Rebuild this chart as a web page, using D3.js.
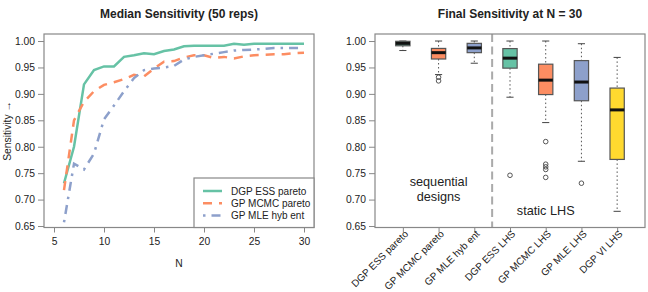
<!DOCTYPE html>
<html>
<head>
<meta charset="utf-8">
<script src="https://cdn.jsdelivr.net/npm/d3@7"></script>
<style>
  body { margin: 0; background: #fff; }
  text { font-family: "Liberation Sans", Arial, Helvetica, sans-serif; fill: #222; }
</style>
</head>
<body>
<script>
// left panel: median sensitivity vs N, three sequential designs
var nValues = [6, 7, 8, 9, 10, 11, 12, 13, 14, 15, 16, 17, 18, 19, 20, 21, 22, 23, 24, 25, 26, 27, 28, 29, 30];
var dgpEssPareto = [0.731, 0.800, 0.918, 0.945, 0.952, 0.952, 0.970, 0.973, 0.977, 0.975, 0.981, 0.984, 0.990, 0.991, 0.991, 0.991, 0.991, 0.995, 0.993, 0.995, 0.995, 0.995, 0.995, 0.995, 0.995];
var gpMcmcPareto = [0.718, 0.850, 0.885, 0.905, 0.917, 0.922, 0.928, 0.936, 0.933, 0.948, 0.961, 0.962, 0.969, 0.973, 0.973, 0.968, 0.970, 0.967, 0.971, 0.973, 0.974, 0.975, 0.975, 0.977, 0.978];
var gpMleHybEnt = [0.657, 0.768, 0.757, 0.787, 0.852, 0.878, 0.905, 0.930, 0.945, 0.948, 0.950, 0.953, 0.965, 0.970, 0.973, 0.976, 0.979, 0.982, 0.983, 0.984, 0.985, 0.987, 0.987, 0.987, 0.987];
var seriesNames = ["DGP ESS pareto", "GP MCMC pareto", "GP MLE hyb ent"];

var xTicks = [5, 10, 15, 20, 25, 30];
var yTicks = [0.65, 0.70, 0.75, 0.80, 0.85, 0.90, 0.95, 1.00];

// right panel: boxplots of final sensitivity at N = 30
var boxLabels = ["DGP ESS pareto", "GP MCMC pareto", "GP MLE hyb ent", "DGP ESS LHS", "GP MCMC LHS", "GP MLE LHS", "DGP VI LHS"];
var boxLow = [0.982, 0.9365, 0.958, 0.8937, 0.8457, 0.7725, 0.6778];
var boxQ1 = [0.991, 0.966, 0.978, 0.9487, 0.8987, 0.887, 0.776];
var boxMedian = [0.9956, 0.978, 0.987, 0.9676, 0.926, 0.9224, 0.8697];
var boxQ3 = [0.9995, 0.986, 0.9956, 0.9857, 0.9562, 0.963, 0.911];
var boxHigh = [1.0, 1.0, 1.0, 1.0, 1.0, 0.9949, 0.969];
var boxOutliers = [[], [0.9315, 0.9246], [], [0.746], [0.8097, 0.767, 0.762, 0.757, 0.742], [0.731], []];

var colors = ["#66C2A5", "#FC8D62", "#8DA0CB", "#66C2A5", "#FC8D62", "#8DA0CB", "#FFD92F"];
var axisCol = "#888";

var svg = d3.select("body").append("svg")
  .attr("width", 648)
  .attr("height", 292);

var y = d3.scaleLinear().domain([0.6472, 1.0133]).range([227.5, 34]);

// ---------- left panel ----------
var x = d3.scaleLinear().domain([4, 31]).range([44, 314]);
var left = svg.append("g");

left.append("text").attr("x", 179).attr("y", 18).attr("text-anchor", "middle")
  .style("font-size", "12px").style("font-weight", "bold")
  .text("Median Sensitivity (50 reps)");

var gx = left.append("g").attr("transform", "translate(0,227.5)")
  .call(d3.axisBottom(x).tickValues(xTicks).tickSize(5).tickPadding(5));
var gy = left.append("g").attr("transform", "translate(44,0)")
  .call(d3.axisLeft(y).tickValues(yTicks).tickFormat(d3.format(".2f")).tickSize(6).tickPadding(3));
[gx, gy].forEach(function (g) {
  g.select(".domain").remove();
  g.selectAll("line").attr("stroke", axisCol);
  g.selectAll("text").style("font-size", "10.3px").attr("fill", "#222");
});

left.append("rect").attr("x", 44).attr("y", 34).attr("width", 270).attr("height", 193.5)
  .attr("fill", "none").attr("stroke", axisCol).attr("stroke-width", 1.2);

left.append("text").attr("x", 179).attr("y", 267).attr("text-anchor", "middle")
  .style("font-size", "10.3px").text("N");
left.append("text").attr("transform", "translate(11,131) rotate(-90)").attr("text-anchor", "middle")
  .style("font-size", "10.3px").text("Sensitivity \u2192");

var lineData = [dgpEssPareto, gpMcmcPareto, gpMleHybEnt];
var dashes = [null, "9,7", "2.5,6,9,6"];
var line = d3.line().x(function (d, i) { return x(nValues[i]); }).y(function (d) { return y(d); });

lineData.forEach(function (s, k) {
  left.append("path").datum(s)
    .attr("d", line)
    .attr("fill", "none")
    .attr("stroke", colors[k])
    .attr("stroke-width", 2.5)
    .attr("stroke-dasharray", dashes[k]);
});

// legend
var lg = left.append("g");
lg.append("rect").attr("x", 194).attr("y", 178).attr("width", 120).attr("height", 49.5)
  .attr("fill", "#fff").attr("stroke", axisCol).attr("stroke-width", 1.2);
seriesNames.forEach(function (nm, k) {
  var yy = 191 + k * 12.2;
  lg.append("line").attr("x1", 203).attr("x2", 222).attr("y1", yy).attr("y2", yy)
    .attr("stroke", colors[k]).attr("stroke-width", 2.5).attr("stroke-dasharray", dashes[k]);
  lg.append("text").attr("x", 231).attr("y", yy + 3.6).style("font-size", "10px").text(nm);
});

// ---------- right panel ----------
var bx = d3.scaleLinear().domain([0.22, 7.78]).range([375, 645]);
var right = svg.append("g");
var bw = bx(1.4) - bx(1);

right.append("text").attr("x", 510).attr("y", 18).attr("text-anchor", "middle")
  .style("font-size", "12px").style("font-weight", "bold")
  .text("Final Sensitivity at N = 30");

var ry = right.append("g").attr("transform", "translate(375,0)")
  .call(d3.axisLeft(y).tickValues(yTicks).tickFormat(d3.format(".2f")).tickSize(6).tickPadding(3));
var rx = right.append("g").attr("transform", "translate(0,227.5)")
  .call(d3.axisBottom(bx).tickValues(d3.range(1, 8)).tickSize(5).tickFormat(""));
[rx, ry].forEach(function (g) {
  g.select(".domain").remove();
  g.selectAll("line").attr("stroke", axisCol);
  g.selectAll("text").style("font-size", "10.3px").attr("fill", "#222");
});

right.append("line").attr("x1", bx(3.5)).attr("x2", bx(3.5)).attr("y1", 34).attr("y2", 227.5)
  .attr("stroke", "#aaa").attr("stroke-width", 2).attr("stroke-dasharray", "8,4.5");

boxLabels.forEach(function (lab, i) {
  var cx = bx(i + 1);
  var g = right.append("g");
  // whiskers
  g.append("line").attr("x1", cx).attr("x2", cx).attr("y1", y(boxHigh[i])).attr("y2", y(boxQ3[i]))
    .attr("stroke", "#555").attr("stroke-dasharray", "1.5,2.5");
  g.append("line").attr("x1", cx).attr("x2", cx).attr("y1", y(boxQ1[i])).attr("y2", y(boxLow[i]))
    .attr("stroke", "#555").attr("stroke-dasharray", "1.5,2.5");
  [boxHigh[i], boxLow[i]].forEach(function (v) {
    g.append("line").attr("x1", cx - bw / 4).attr("x2", cx + bw / 4).attr("y1", y(v)).attr("y2", y(v))
      .attr("stroke", "#444");
  });
  g.append("rect").attr("x", cx - bw / 2).attr("y", y(boxQ3[i])).attr("width", bw)
    .attr("height", y(boxQ1[i]) - y(boxQ3[i]))
    .attr("fill", colors[i]).attr("stroke", "#555").attr("stroke-width", 1.2);
  g.append("line").attr("x1", cx - bw / 2).attr("x2", cx + bw / 2)
    .attr("y1", y(boxMedian[i])).attr("y2", y(boxMedian[i]))
    .attr("stroke", "#111").attr("stroke-width", 3);
  g.selectAll("circle").data(boxOutliers[i]).enter().append("circle")
    .attr("cx", cx).attr("cy", function (d) { return y(d); }).attr("r", 2.3)
    .attr("fill", "none").attr("stroke", "#444").attr("stroke-width", 0.9);
  right.append("text")
    .attr("transform", "translate(" + (cx + 6) + ",234.5) rotate(-45)")
    .attr("text-anchor", "end").style("font-size", "10px").text(lab);
});

right.append("rect").attr("x", 375).attr("y", 34).attr("width", 270).attr("height", 193.5)
  .attr("fill", "none").attr("stroke", axisCol).attr("stroke-width", 1.2);

right.append("text").attr("x", bx(2)).attr("y", 186).attr("text-anchor", "middle")
  .style("font-size", "12.7px").text("sequential");
right.append("text").attr("x", bx(2)).attr("y", 200.5).attr("text-anchor", "middle")
  .style("font-size", "12.7px").text("designs");
right.append("text").attr("x", bx(5)).attr("y", 215).attr("text-anchor", "middle")
  .style("font-size", "12.7px").text("static LHS");
</script>
</body>
</html>
